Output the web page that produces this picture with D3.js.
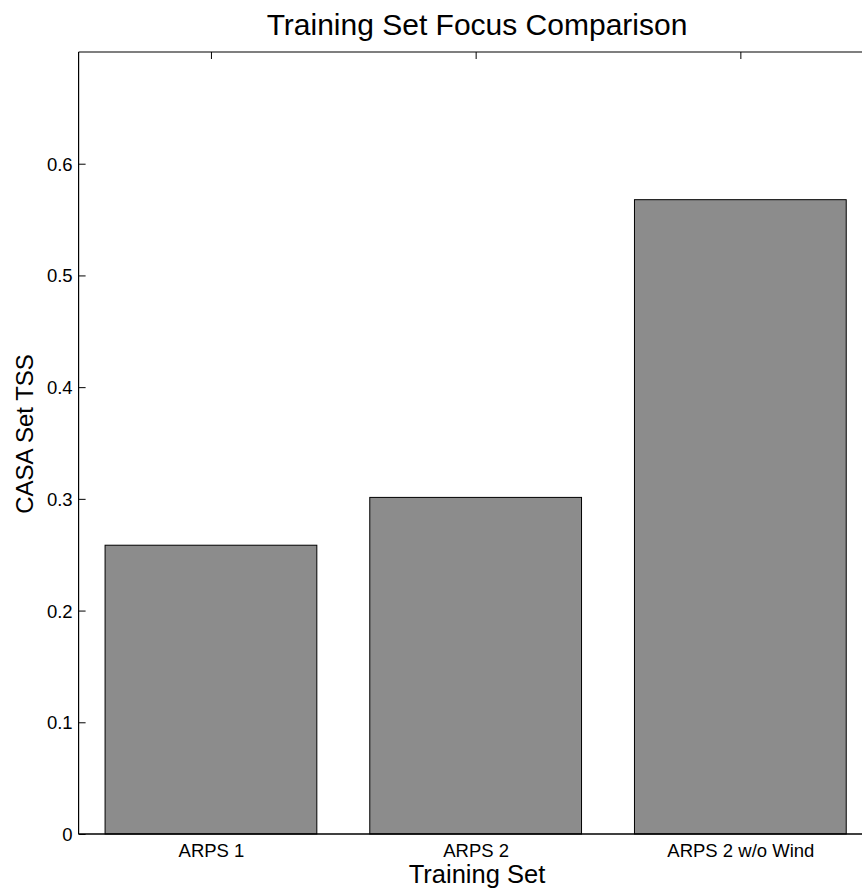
<!DOCTYPE html>
<html><head><meta charset="utf-8">
<script src="https://cdn.jsdelivr.net/npm/d3@7"></script>
<style>body{margin:0;background:#fff}text{font-family:"Liberation Sans",Arial,Helvetica,sans-serif;fill:#000}</style>
</head><body><svg id="c" width="862" height="889"></svg>
<script>
const categories = ["ARPS 1", "ARPS 2", "ARPS 2 w/o Wind"];
const values = [0.2585, 0.3013, 0.5678];
const yTicks = [0, 0.1, 0.2, 0.3, 0.4, 0.5, 0.6];
const title = "Training Set Focus Comparison";
const xLabel = "Training Set";
const yLabel = "CASA Set TSS";

const svg = d3.select("#c");
const L = 78.6, T = 52, B = 834, step = 264.7;
const x = d3.scaleLinear().domain([0.5, 3.5]).range([L, L + 3 * step]);
const y = d3.scaleLinear().domain([0, 0.7]).range([B, T]);
const R = x(3.5);

const g = svg.append("g");
// bars
g.selectAll("rect.bar").data(values).enter().append("rect")
  .attr("x", (d, i) => x(i + 1 - 0.4))
  .attr("width", (d, i) => x(i + 1 + 0.4) - x(i + 1 - 0.4))
  .attr("y", d => y(d))
  .attr("height", d => y(0) - y(d))
  .attr("fill", "#8c8c8c").attr("stroke", "#000").attr("stroke-width", 1);

// box lines
g.append("line").attr("x1", L).attr("x2", R).attr("y1", T).attr("y2", T).attr("stroke", "#000").attr("stroke-width", 1.2);
g.append("line").attr("x1", L).attr("x2", R).attr("y1", B).attr("y2", B).attr("stroke", "#000").attr("stroke-width", 1.5);
g.append("line").attr("x1", L).attr("x2", L).attr("y1", T).attr("y2", B).attr("stroke", "#000").attr("stroke-width", 1.2);
g.append("line").attr("x1", R).attr("x2", R).attr("y1", T).attr("y2", B).attr("stroke", "#000").attr("stroke-width", 1.2);

// y axis (ticks inward)
const yAxis = d3.axisRight(y).tickValues(yTicks).tickSize(7).tickFormat(d => d === 0 ? "0" : d3.format(".1f")(d));
const ya = g.append("g").attr("transform", `translate(${L},0)`).call(yAxis);
ya.select(".domain").remove();
ya.selectAll("text").attr("x", -6).attr("text-anchor", "end").style("font-size", "18.5px").attr("dy", "0.35em");
ya.selectAll("line").attr("stroke", "#000");

// top ticks at category centers
const tx = d3.axisBottom(x).tickValues([1, 2, 3]).tickSize(7).tickFormat("");
const ta = g.append("g").attr("transform", `translate(0,${T})`).call(tx);
ta.select(".domain").remove();

// bottom category labels
const bx = d3.axisTop(x).tickValues([1, 2, 3]).tickSize(0).tickFormat(d => categories[d - 1]);
const ba = g.append("g").attr("transform", `translate(0,${B})`).call(bx);
ba.select(".domain").remove();
ba.selectAll("text").attr("y", 23).attr("dy", "0").style("font-size", "18.5px");

// titles
svg.append("text").attr("x", 477).attr("y", 35).attr("text-anchor", "middle").style("font-size", "30px").text(title);
svg.append("text").attr("x", 477).attr("y", 883).attr("text-anchor", "middle").style("font-size", "25.5px").text(xLabel);
svg.append("text").attr("transform", "translate(33,434) rotate(-90)").attr("text-anchor", "middle").style("font-size", "24px").text(yLabel);
</script></body></html>
